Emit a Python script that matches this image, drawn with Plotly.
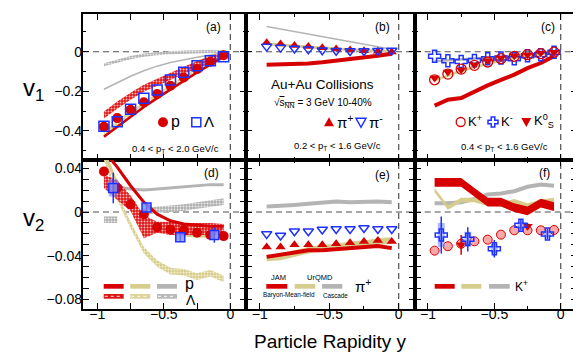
import plotly.graph_objects as go

W, H = 581, 354

# rapidity bin centres
rap = [-0.95, -0.85, -0.75, -0.65, -0.55, -0.45, -0.35, -0.25, -0.15, -0.05]

# ---- (a) v1: protons and Lambdas
p_v1 = [-0.380, -0.336, -0.294, -0.256, -0.214, -0.172, -0.130, -0.088, -0.051, -0.018]
lam_v1 = [-0.377, -0.354, -0.291, -0.236, -0.194, -0.143, -0.104, -0.071, -0.046, -0.025]
jam_p_v1 = [-0.430, -0.380, -0.330, -0.280, -0.235, -0.190, -0.148, -0.105, -0.065, -0.025]
urqmd_p_v1 = [-0.415, -0.365, -0.315, -0.270, -0.225, -0.180, -0.137, -0.097, -0.058, -0.022]
jam_lam_v1 = [-0.320, -0.270, -0.225, -0.185, -0.155, -0.125, -0.095, -0.065, -0.040, -0.015]
casc_p_v1 = [-0.190, -0.155, -0.124, -0.096, -0.073, -0.055, -0.040, -0.028, -0.016, -0.006]
casc_lam_v1 = [-0.066, -0.048, -0.030, -0.017, -0.010, -0.005, -0.002, 0.000, 0.001, 0.000]

# ---- (b) v1: pions
pip_v1 = [0.046, 0.039, 0.032, 0.026, 0.020, 0.014, 0.009, 0.005, 0.002, -0.001]
pim_v1 = [0.026, 0.021, 0.016, 0.012, 0.008, 0.005, 0.004, 0.004, 0.005, 0.006]
jam_pi_v1 = [-0.066, -0.065, -0.063, -0.059, -0.053, -0.046, -0.038, -0.029, -0.020, -0.010]
urqmd_pi_v1 = [0.040, 0.034, 0.029, 0.024, 0.019, 0.014, 0.010, 0.006, 0.003, 0.000]
casc_pi_v1 = [0.128, 0.115, 0.102, 0.089, 0.076, 0.063, 0.050, 0.037, 0.024, 0.012]

# ---- (c) v1: kaons
kp_v1 = [-0.142, -0.113, -0.088, -0.069, -0.052, -0.035, -0.023, -0.015, -0.010, -0.002]
km_v1 = [-0.023, -0.046, -0.049, -0.044, -0.035, -0.032, -0.035, -0.020, -0.015, -0.003]
k0s_v1 = [-0.133, -0.103, -0.091, -0.066, -0.046, -0.032, -0.020, -0.015, -0.007, -0.003]
jam_k_v1 = [-0.273, -0.243, -0.234, -0.200, -0.170, -0.142, -0.116, -0.083, -0.057, -0.023]
urqmd_k_v1 = [-0.145, -0.120, -0.097, -0.077, -0.060, -0.045, -0.032, -0.020, -0.010, -0.002]
casc_k_v1 = [-0.048, -0.044, -0.040, -0.035, -0.030, -0.025, -0.020, -0.014, -0.008, -0.003]

# ---- (d) v2: protons and Lambdas
p_v2 = [0.037, 0.022, 0.007, -0.002, -0.014, -0.016, -0.017, -0.019, -0.021, -0.022]
lam_rap = [-0.88, -0.63, -0.376, -0.12]
lam_v2 = [0.022, 0.004, -0.023, -0.021]
lam_v2_err = [0.014, 0.004, 0.004, 0.007]
lam_v2_sys = [0.008, 0.004, 0.003, 0.004]
jam_p_v2 = [0.056, 0.041, 0.024, 0.009, -0.002, -0.008, -0.011, -0.012, -0.013, -0.013]
jam_lam_v2_lo = [0.022, 0.011, 0.001, -0.024, -0.019, -0.021, -0.021, -0.021, -0.021, -0.021]
jam_lam_v2_hi = [0.034, 0.029, 0.015, -0.003, -0.009, -0.009, -0.010, -0.010, -0.010, -0.011]
urqmd_p_v2 = [0.055, 0.025, 0.003, -0.009, -0.015, -0.019, -0.021, -0.022, -0.022, -0.022]
urqmd_lam_v2 = [0.050, 0.014, -0.012, -0.035, -0.047, -0.054, -0.055, -0.059, -0.056, -0.061]
casc_p_v2 = [0.027, 0.023, 0.021, 0.020, 0.021, 0.022, 0.023, 0.024, 0.025, 0.025]
casc_lam_v2 = [-0.007, -0.007, None, 0.000, 0.002, 0.003, 0.004, 0.006, 0.008, 0.0095]

# ---- (e) v2: pions
pip_v2 = [-0.032, -0.032, -0.030, -0.030, -0.030, -0.029, -0.028, -0.027, -0.026, -0.027]
pim_v2 = [-0.020, -0.0215, -0.0176, -0.0176, -0.016, -0.0155, -0.0155, -0.0146, -0.0155, -0.0155]
jam_pi_v2 = [-0.041, -0.039, -0.037, -0.035, -0.035, -0.034, -0.033, -0.032, -0.031, -0.033]
urqmd_pi_v2 = [-0.042, -0.041, -0.038, -0.035, -0.033, -0.032, -0.030, -0.029, -0.027, -0.026]
casc_pi_v2 = [0.005, 0.0055, 0.0065, 0.0075, 0.0085, 0.0095, 0.009, 0.0095, 0.0095, 0.009]

# ---- (f) v2: kaons
kp_v2 = [-0.0353, -0.0313, -0.029, -0.0268, -0.0253, -0.0207, -0.0167, -0.0167, -0.0167, -0.0164]
km_rap = [-0.90, -0.70, -0.50, -0.30, -0.10]
km_v2 = [-0.021, -0.025, -0.0335, -0.012, -0.020]
km_v2_err = [0.017, 0.011, 0.008, 0.005, 0.005]
km_v2_sys = [0.011, 0.007, 0.004, 0.003, 0.003]
k0s_rap = [-0.75, -0.25]
k0s_v2 = [-0.030, -0.013]
k0s_v2_err = [0.009, 0.003]
jam_k_v2 = [0.027, 0.027, 0.027, 0.018, 0.009, 0.009, 0.004, 0.001, 0.008, 0.005]
urqmd_k_v2 = [0.020, 0.004, 0.011, 0.011, 0.0075, 0.007, 0.0098, 0.006, 0.0095, 0.011]
casc_k_v2 = [0.008, 0.008, 0.009, 0.012, 0.016, 0.017, 0.019, 0.023, 0.025, 0.024]

# axis ticks
x_tickvals = [-1, -0.5, 0]
x_ticktext = ['\u22121', '\u22120.5', '0']
v1_tickvals = [0, -0.2, -0.4]
v1_ticktext = ['0', '\u22120.2', '\u22120.4']
v2_tickvals = [0.04, 0, -0.04, -0.08]
v2_ticktext = ['0.04', '0', '\u22120.04', '\u22120.08']

RED = 'rgb(215,0,0)'
KHAKI = 'rgb(214,204,140)'
GRAY = 'rgb(180,180,180)'
BLUE = 'rgb(30,50,255)'
FONT = 'Liberation Sans, Arial, sans-serif'


def fx(px):
    return px / W


def fy(py):
    return 1 - py / H


def ax(k):
    return ('x' if k == 1 else 'x%d' % k), ('y' if k == 1 else 'y%d' % k)


fig = go.Figure()


def line(k, x, y, color, width):
    xa, ya = ax(k)
    fig.add_trace(go.Scatter(x=x, y=y, mode='lines', xaxis=xa, yaxis=ya,
                             line=dict(color=color, width=width), connectgaps=False))


def band(k, x, lo, hi, color, pattern=None):
    xa, ya = ax(k)
    # split on gaps
    segs, cur = [], []
    for xi, l, h in zip(x, lo, hi):
        if l is None:
            if cur:
                segs.append(cur)
            cur = []
        else:
            cur.append((xi, l, h))
    if cur:
        segs.append(cur)
    for s in segs:
        xs = [p[0] for p in s] + [p[0] for p in s][::-1]
        ys = [p[2] for p in s] + [p[1] for p in s][::-1]
        kw = dict(x=xs, y=ys, mode='lines', fill='toself', xaxis=xa, yaxis=ya,
                  line=dict(width=0), fillcolor=color)
        if pattern:
            kw['fillpattern'] = pattern
        fig.add_trace(go.Scatter(**kw))


def sym(c, hw):
    return ([None if v is None else v - hw for v in c], [None if v is None else v + hw for v in c])


def dots(fg, bg):
    return dict(shape='.', fgcolor=fg, bgcolor=bg, size=3, solidity=0.35, fillmode='replace')


RED_H = dots('rgb(255,190,190)', 'rgb(220,20,20)')
KHAKI_H = dots('rgb(245,240,210)', 'rgb(214,204,140)')
GRAY_H = dots('rgb(235,235,235)', 'rgb(175,175,175)')

# ---------- panel a
lo, hi = sym(casc_lam_v1, 0.008)
band(1, rap, lo, hi, 'white', GRAY_H)
line(1, rap, casc_p_v1, GRAY, 1.5)
lo, hi = sym(urqmd_p_v1, 0.016)
band(1, rap, lo, hi, KHAKI, KHAKI_H)
lo, hi = sym(jam_lam_v1, 0.018)
band(1, rap, lo, hi, 'white', RED_H)
line(1, rap, jam_p_v1, RED, 2.5)
fig.add_trace(go.Scatter(x=rap, y=p_v1, mode='markers', xaxis='x', yaxis='y',
                         marker=dict(symbol='circle', size=10, color=RED)))
fig.add_trace(go.Scatter(x=rap, y=lam_v1, mode='markers', xaxis='x', yaxis='y',
                         marker=dict(symbol='square-open', size=10, color=BLUE, line=dict(width=1.5))))

# ---------- panel b
line(2, rap, casc_pi_v1, GRAY, 1.5)
lo, hi = sym(urqmd_pi_v1, 0.007)
band(2, rap, lo, hi, KHAKI)
line(2, rap, jam_pi_v1, RED, 4)
fig.add_trace(go.Scatter(x=rap, y=pip_v1, mode='markers', xaxis='x2', yaxis='y2',
                         marker=dict(symbol='triangle-up', size=9, color=RED)))
fig.add_trace(go.Scatter(x=rap, y=pim_v1, mode='markers', xaxis='x2', yaxis='y2',
                         marker=dict(symbol='triangle-down-open', size=9, color=BLUE, line=dict(width=1.5))))

# ---------- panel c
line(3, rap, casc_k_v1, GRAY, 2.5)
line(3, rap, urqmd_k_v1, KHAKI, 2.5)
line(3, rap, jam_k_v1, RED, 4)
fig.add_trace(go.Scatter(x=rap, y=km_v1, mode='markers', xaxis='x3', yaxis='y3',
                         marker=dict(symbol='cross-open', size=10, color=BLUE, line=dict(width=1.5))))
fig.add_trace(go.Scatter(x=rap, y=kp_v1, mode='markers', xaxis='x3', yaxis='y3',
                         marker=dict(symbol='circle-open', size=10, color=RED, line=dict(width=1.3))))
fig.add_trace(go.Scatter(x=rap, y=k0s_v1, mode='markers', xaxis='x3', yaxis='y3',
                         marker=dict(symbol='triangle-down', size=9, color=RED)))

# ---------- panel d
lo, hi = sym(casc_lam_v2, 0.003)
band(4, rap, lo, hi, 'white', GRAY_H)
line(4, rap, casc_p_v2, GRAY, 3)
lo, hi = sym(urqmd_lam_v2, 0.003)
band(4, rap, lo, hi, 'white', KHAKI_H)
line(4, rap, urqmd_p_v2, KHAKI, 3)
band(4, rap, jam_lam_v2_lo, jam_lam_v2_hi, 'white', RED_H)
line(4, rap, jam_p_v2, RED, 3)
fig.add_trace(go.Scatter(x=rap, y=p_v2, mode='markers', xaxis='x4', yaxis='y4',
                         marker=dict(symbol='circle', size=10, color=RED)))
fig.add_trace(go.Scatter(x=lam_rap, y=lam_v2, mode='markers', xaxis='x4', yaxis='y4',
                         error_y=dict(type='data', array=lam_v2_sys, color='rgba(120,140,255,0.6)',
                                      thickness=9, width=0),
                         marker=dict(size=0.1, color='rgba(0,0,0,0)')))
fig.add_trace(go.Scatter(x=lam_rap, y=lam_v2, mode='markers', xaxis='x4', yaxis='y4',
                         error_y=dict(type='data', array=lam_v2_err, color=BLUE, thickness=1.5, width=0),
                         marker=dict(symbol='square', size=9, color='rgba(130,150,255,0.6)',
                                     line=dict(color=BLUE, width=1.5))))

# ---------- panel e
line(5, rap, casc_pi_v2, GRAY, 4)
lo, hi = sym(urqmd_pi_v2, 0.003)
band(5, rap, lo, hi, KHAKI)
line(5, rap, jam_pi_v2, RED, 4)
fig.add_trace(go.Scatter(x=rap, y=pim_v2, mode='markers', xaxis='x5', yaxis='y5',
                         marker=dict(symbol='triangle-down-open', size=9, color=BLUE, line=dict(width=1.5))))
fig.add_trace(go.Scatter(x=rap, y=pip_v2, mode='markers', xaxis='x5', yaxis='y5',
                         marker=dict(symbol='triangle-up', size=9, color=RED)))

# ---------- panel f
line(6, rap, casc_k_v2, GRAY, 4)
lo, hi = sym(urqmd_k_v2, 0.002)
band(6, rap, lo, hi, KHAKI)
lo, hi = sym(jam_k_v2, 0.004)
band(6, rap, lo, hi, RED)
fig.add_trace(go.Scatter(x=rap, y=kp_v2, mode='markers', xaxis='x6', yaxis='y6',
                         marker=dict(symbol='circle', size=9, color='rgba(255,150,150,0.85)',
                                     line=dict(color=RED, width=1))))
fig.add_trace(go.Scatter(x=k0s_rap, y=k0s_v2, mode='markers', xaxis='x6', yaxis='y6',
                         error_y=dict(type='data', array=k0s_v2_err, color=RED, thickness=1.5, width=0),
                         marker=dict(symbol='triangle-down', size=9, color=RED)))
fig.add_trace(go.Scatter(x=km_rap, y=km_v2, mode='markers', xaxis='x6', yaxis='y6',
                         error_y=dict(type='data', array=km_v2_sys, color='rgba(120,140,255,0.6)',
                                      thickness=7, width=0),
                         marker=dict(size=0.1, color='rgba(0,0,0,0)')))
fig.add_trace(go.Scatter(x=km_rap, y=km_v2, mode='markers', xaxis='x6', yaxis='y6',
                         error_y=dict(type='data', array=km_v2_err, color=BLUE, thickness=1.5, width=0),
                         marker=dict(symbol='cross-open', size=10, color=BLUE, line=dict(width=1.5))))

# ---------- axes
col_px = [75, 238, 406.7, 569.3]
row_px = [6, 152, 301]
x_ranges = [[-1.1075, 0.118], [-1.0986, 0.115], [-1.100, 0.125]]
y_ranges = [[-0.548, 0.191], [-0.0886, 0.0475]]
y_ticks = [v1_tickvals, v2_tickvals]
y_text = [v1_ticktext, v2_ticktext]
y_minor = [0.1, 0.01]
TICKFONT = dict(family=FONT, size=14, color='black')

layout = {}
shapes = []
for r in range(2):
    for c in range(3):
        k = r * 3 + c + 1
        sfx = '' if k == 1 else str(k)
        common = dict(showline=True, linecolor='black', linewidth=2, mirror='allticks',
                      ticks='inside', ticklen=6, tickwidth=1, tickcolor='black',
                      showgrid=False, zeroline=False, showticklabels=False)
        layout['xaxis' + sfx] = dict(
            common, domain=[fx(col_px[c]), fx(col_px[c + 1])], range=x_ranges[c],
            anchor='y' + sfx, tickvals=x_tickvals,
            minor=dict(ticks='inside', ticklen=3, dtick=0.25, tick0=0, tickcolor='black'))
        layout['yaxis' + sfx] = dict(
            common, domain=[fy(row_px[r + 1]), fy(row_px[r])], range=y_ranges[r],
            anchor='x' + sfx, tickvals=y_ticks[r],
            minor=dict(ticks='inside', ticklen=3, dtick=y_minor[r], tick0=0, tickcolor='black'))
        xa, ya = ax(k)
        dash = dict(color='rgb(80,80,80)', width=1.2, dash='6px,4px')
        shapes.append(dict(type='line', xref=xa + ' domain', yref=ya, x0=0, x1=1, y0=0, y1=0,
                           line=dash, layer='below'))
        shapes.append(dict(type='line', xref=xa, yref=ya + ' domain', x0=0, x1=0, y0=0, y1=1,
                           line=dash, layer='below'))

# label-only axes (placed freely so the labels sit close to the frame)
for c in range(3):
    k = 7 + c
    layout['xaxis%d' % k] = dict(
        overlaying='x%d' % (4 + c), anchor='free', position=fy(296), side='bottom',
        domain=[fx(col_px[c]), fx(col_px[c + 1])], range=x_ranges[c],
        tickvals=x_tickvals, ticktext=x_ticktext, tickfont=TICKFONT,
        showline=False, showgrid=False, zeroline=False, ticks='')
    fig.add_trace(go.Scatter(x=[None], y=[None], mode='markers', xaxis='x%d' % k,
                             yaxis='y%d' % (4 + c), hoverinfo='skip'))
for r in range(2):
    k = 10 + r
    layout['yaxis%d' % k] = dict(
        overlaying='y' if r == 0 else 'y4', anchor='free', position=fx(74), side='left',
        domain=[fy(row_px[r + 1]), fy(row_px[r])], range=y_ranges[r],
        tickvals=y_ticks[r], ticktext=y_text[r], tickfont=TICKFONT,
        showline=False, showgrid=False, zeroline=False, ticks='')
    fig.add_trace(go.Scatter(x=[None], y=[None], mode='markers', xaxis='x' if r == 0 else 'x4',
                             yaxis='y%d' % k, hoverinfo='skip'))


# legend keys (pixel-sized shapes anchored in paper coordinates)
def key_path(px, py, path, fill, line_color, lw=1.5):
    shapes.append(dict(type='path', xref='paper', yref='paper', xsizemode='pixel', ysizemode='pixel',
                       xanchor=fx(px), yanchor=fy(py), path=path, fillcolor=fill,
                       line=dict(color=line_color, width=lw)))


def key_circle(px, py, rad, fill, line_color, lw=1.3):
    shapes.append(dict(type='circle', xref='paper', yref='paper', xsizemode='pixel', ysizemode='pixel',
                       xanchor=fx(px), yanchor=fy(py), x0=-rad, x1=rad, y0=-rad, y1=rad,
                       fillcolor=fill, line=dict(color=line_color, width=lw)))


def key_bar(px0, px1, py0, py1, fill, dotted=None):
    shapes.append(dict(type='rect', xref='paper', yref='paper', x0=fx(px0), x1=fx(px1),
                       y0=fy(py1), y1=fy(py0), fillcolor=fill, line=dict(width=0)))
    if dotted:
        # light dotted stripe to mimic the hatched fill
        shapes.append(dict(type='line', xref='paper', yref='paper', x0=fx(px0 + 1), x1=fx(px1 - 1),
                           y0=fy((py0 + py1) / 2), y1=fy((py0 + py1) / 2),
                           line=dict(color=dotted, width=1.2, dash='dot')))


SQ = 'M -4.5,-4.5 L 4.5,-4.5 L 4.5,4.5 L -4.5,4.5 Z'
TUP = 'M -5,-4 L 5,-4 L 0,5 Z'
TDN = 'M -5,4 L 5,4 L 0,-5 Z'
CRS = ('M -1.8,5 L 1.8,5 L 1.8,1.8 L 5,1.8 L 5,-1.8 L 1.8,-1.8 L 1.8,-5 L -1.8,-5 '
       'L -1.8,-1.8 L -5,-1.8 L -5,1.8 L -1.8,1.8 Z')

key_circle(155, 114.3, 5, RED, RED, 0)
key_path(188.3, 114.3, SQ, 'rgba(0,0,0,0)', BLUE)
key_path(321, 114.3, TUP, RED, RED, 0)
key_path(353, 114.3, TDN, 'rgba(0,0,0,0)', BLUE)
key_circle(452.7, 114, 4.5, 'rgba(0,0,0,0)', RED)
key_path(485, 114, CRS, 'rgba(0,0,0,0)', BLUE)
key_path(518.3, 114, TDN, RED, RED, 0)

key_bar(95.7, 115.7, 276, 280.7, RED)
key_bar(122.3, 142.3, 276, 280.7, KHAKI)
key_bar(149, 169, 276, 280.7, GRAY)
key_bar(95.7, 115.7, 286, 290.7, 'rgb(220,20,20)', 'rgb(255,190,190)')
key_bar(122.3, 142.3, 286, 290.7, 'rgb(220,210,155)', 'rgb(250,246,225)')
key_bar(149, 169, 286, 290.7, 'rgb(185,185,185)', 'rgb(240,240,240)')

key_bar(258.3, 279.3, 276, 280.7, RED)
key_bar(286.7, 307.3, 276, 280.7, KHAKI)
key_bar(314, 334.3, 276, 280.7, GRAY)

key_bar(426.7, 446.7, 276, 280.7, RED)
key_bar(453.3, 473.3, 276, 280.7, KHAKI)
key_bar(481, 501.7, 276, 280.7, GRAY)

annotations = []


def txt(px, py, text, size, xanchor='center', color='black'):
    annotations.append(dict(x=fx(px), y=fy(py), xref='paper', yref='paper', text=text,
                            showarrow=False, xanchor=xanchor, yanchor='middle',
                            font=dict(family=FONT, size=size, color=color)))


for lbl, px, py in [('(a)', 205, 18.7), ('(b)', 374.3, 18.7), ('(c)', 540, 18.7),
                    ('(d)', 203.3, 165), ('(e)', 374.3, 167), ('(f)', 536.7, 165)]:
    txt(px, py, lbl, 12)

txt(167, 141, '0.4 &lt; p<sub>T</sub> &lt; 2.0 GeV/c', 9.5)
txt(329, 138, '0.2 &lt; p<sub>T</sub> &lt; 1.6 GeV/c', 9.5)
txt(496, 139, '0.4 &lt; p<sub>T</sub> &lt; 1.6 GeV/c', 9.5)
txt(314.3, 76, 'Au+Au Collisions', 13.5)
txt(264, 95.3, '\u221a<span style="text-decoration:overline">s<sub>NN</sub></span> = 3 GeV 10-40%', 10,
    'left')
txt(161, 113, 'p', 16, 'left')
txt(194, 113, '\u039b', 15, 'left')
txt(327, 113, '\u03c0<sup>+</sup>', 15, 'left')
txt(359, 113, '\u03c0<sup>-</sup>', 15, 'left')
txt(458, 113, 'K<sup>+</sup>', 13, 'left')
txt(490.5, 113, 'K<sup>-</sup>', 13, 'left')
txt(523.5, 113, 'K<sup>0</sup><sub>S</sub>', 13, 'left')

txt(175, 275, 'p', 16, 'left')
txt(176, 292, '\u039b', 14, 'left')
txt(270.3, 269, 'JAM', 7.5)
txt(311.7, 269, 'UrQMD', 7.5)
txt(281, 287, 'Baryon-Mean-field', 6.3)
txt(327.3, 287, 'Cascade', 6.3)
txt(345, 277, '\u03c0<sup>+</sup>', 15, 'left')
txt(504.5, 278, 'K<sup>+</sup>', 12, 'left')

txt(25, 82, 'v<sub>1</sub>', 24)
txt(25, 211, 'v<sub>2</sub>', 24)
txt(322, 333, 'Particle Rapidity y', 19)

fig.update_layout(
    width=W, height=H,
    margin=dict(l=0, r=0, t=0, b=0),
    paper_bgcolor='white', plot_bgcolor='white',
    showlegend=False,
    shapes=shapes,
    annotations=annotations,
    **layout,
)

fig.write_html("out.html")
